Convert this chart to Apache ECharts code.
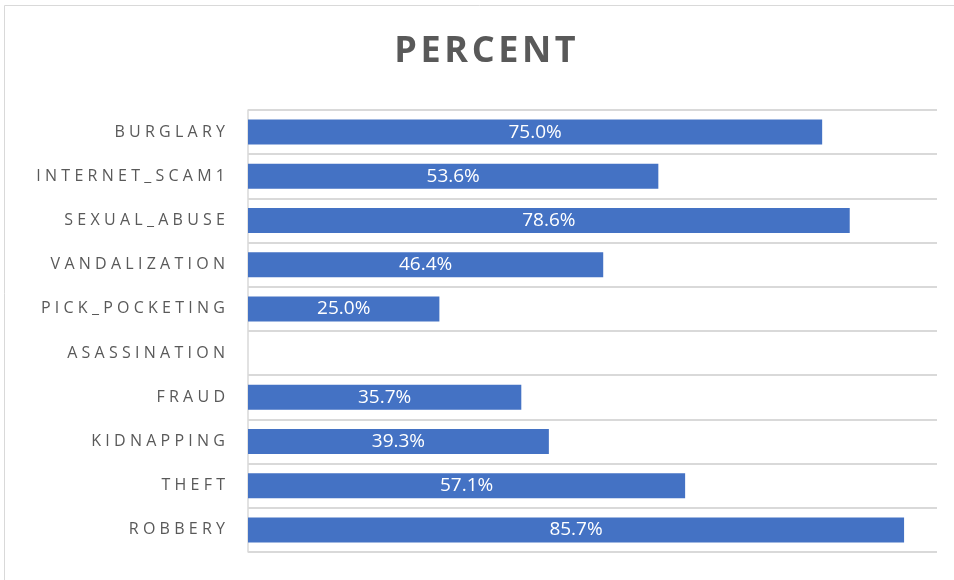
<!DOCTYPE html>
<html>
<head>
<meta charset="utf-8">
<script src="https://cdn.jsdelivr.net/npm/echarts@6/dist/echarts.min.js"></script>
<style>
  html, body { margin: 0; padding: 0; background: #fff; }
  #chart { width: 954px; height: 580px; }
</style>
</head>
<body>
<div id="chart"></div>
<script>
// crime categories, top to bottom
const categories = ['BURGLARY', 'INTERNET_SCAM1', 'SEXUAL_ABUSE', 'VANDALIZATION', 'PICK_POCKETING',
  'ASASSINATION', 'FRAUD', 'KIDNAPPING', 'THEFT', 'ROBBERY']
// percent values (fraction of 1)
const percentValues = [0.750, 0.536, 0.786, 0.464, 0.250, 0, 0.357, 0.393, 0.571, 0.857]
const chartTitle = 'PERCENT'

// fake letter spacing, canvas text has none
const spaced = (s, sep) => s.split('').join(sep)

let chart = echarts.init(document.getElementById('chart'))
let option = {
  animation: false,
  title: {
    text: spaced(chartTitle, '\u200a'),
    left: 480,
    textAlign: 'center',
    top: 29,
    textStyle: {
      fontFamily: 'Open Sans',
      fontWeight: 'bold',
      fontSize: 36,
      color: '#595959'
    }
  },
  graphic: [{
    type: 'rect',
    shape: { x: 4.5, y: 5.5, width: 1000, height: 1000 },
    style: { fill: 'none', stroke: '#d9d9d9', lineWidth: 1 },
    silent: true
  }],
  grid: { left: 248, right: 17, top: 110, bottom: 28 },
  xAxis: {
    type: 'value',
    min: 0,
    max: 0.9,
    axisLabel: { show: false },
    axisLine: { show: false },
    axisTick: { show: false },
    splitLine: { show: false }
  },
  yAxis: {
    type: 'category',
    inverse: true,
    data: categories,
    axisLine: { show: true, lineStyle: { color: '#d9d9d9', width: 1.5 } },
    axisTick: { show: false },
    splitLine: { show: true, lineStyle: { color: '#d9d9d9', width: 2 } },
    axisLabel: {
      margin: 23,
      fontFamily: 'Open Sans',
      fontSize: 16,
      color: '#595959',
      formatter: v => spaced(v, '\u2009\u200a')
    }
  },
  series: [{
    type: 'bar',
    data: percentValues,
    barWidth: 25,
    itemStyle: { color: '#4472c4' },
    label: {
      show: true,
      position: 'inside',
      color: '#fff',
      fontFamily: 'Open Sans',
      fontSize: 19,
      formatter: p => p.value > 0 ? (p.value * 100).toFixed(1) + '%' : ''
    }
  }]
}
chart.setOption(option)
</script>
</body>
</html>
